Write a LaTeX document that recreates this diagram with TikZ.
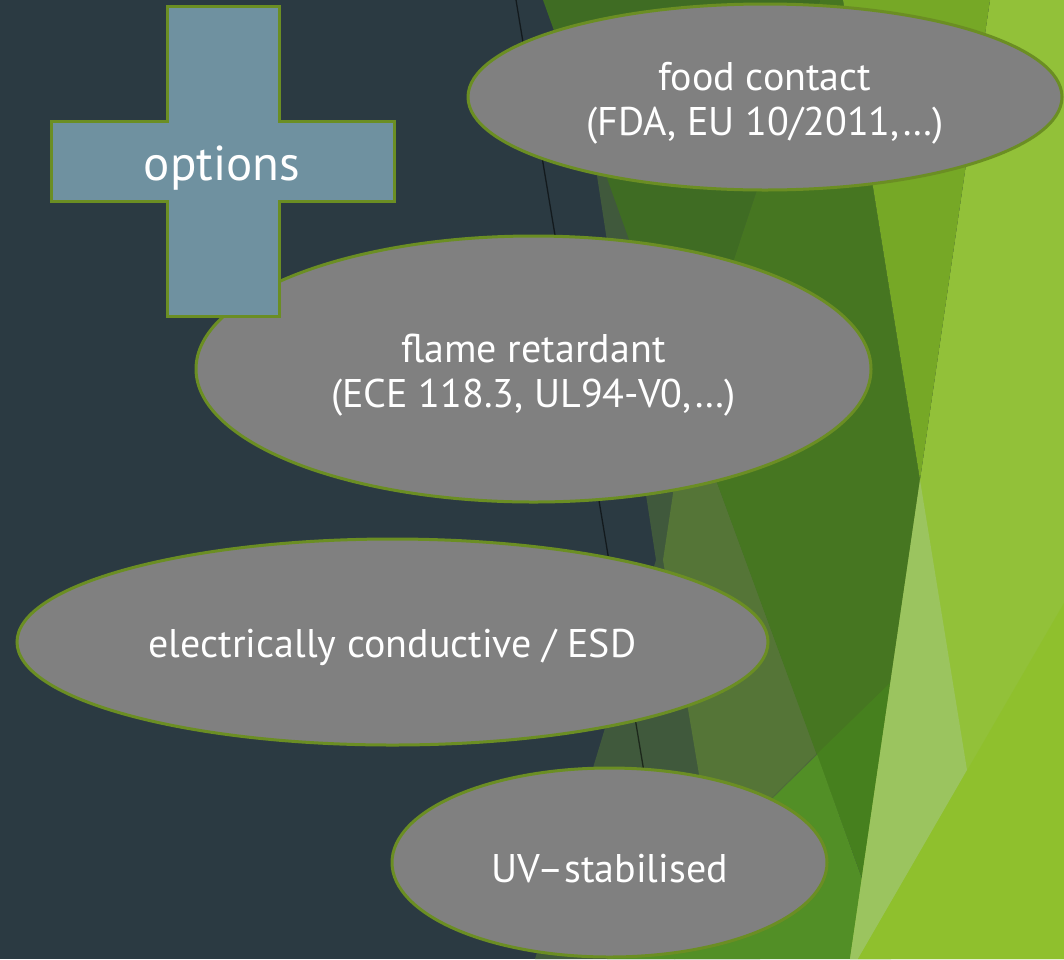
\documentclass[tikz,border=0pt]{standalone}
\usepackage{fontspec}
\setmainfont{PT Sans}
\definecolor{slate}{RGB}{43,58,66}
\definecolor{stripg}{RGB}{64,89,60}
\definecolor{dgreena}{RGB}{63,108,35}
\definecolor{dgreenb}{RGB}{70,118,33}
\definecolor{oliveg}{RGB}{85,117,55}
\definecolor{brgreen}{RGB}{70,128,30}
\definecolor{bgreen}{RGB}{82,143,38}
\definecolor{mgreen}{RGB}{118,168,38}
\definecolor{lgreen}{RGB}{146,193,57}
\definecolor{wgreen}{RGB}{155,196,95}
\definecolor{ygreen}{RGB}{143,192,45}
\definecolor{rimgreen}{RGB}{107,142,35}
\definecolor{crossblue}{RGB}{111,145,160}
\usetikzlibrary{shapes.geometric}
\newcommand{\lift}{\rule{0pt}{40pt}}
\begin{document}
\begin{tikzpicture}[x=1pt, y=-1pt,
    optbox/.style={shape=ellipse, draw=rimgreen, line width=3pt, fill=black!50,
                   inner sep=0pt, text=white, align=center,
                   font=\fontsize{40}{45}\selectfont},
    crossbox/.style={draw=rimgreen, line width=3pt, fill=crossblue}]
  \useasboundingbox (0,0) rectangle (1064,959);
  % background facets
  \fill[slate] (0,0) rectangle (1064,959);
  \fill[stripg] (570,0) -- (656,560) -- (535,959) -- (760,959) -- (760,0) -- cycle;
  \draw[black, opacity=.55, line width=1.3pt] (516,0) -- (675,959);
  \fill[dgreena] (543,0) -- (820,0) -- (687,401) -- cycle;
  \fill[oliveg] (687,401) -- (817,754) -- (760,810) -- (710,840) -- (663,560) -- cycle;
  \fill[dgreenb] (820,0) -- (843,0) -- (920,480) -- (862,878) -- (687,401) -- cycle;
  \fill[brgreen] (817,754) -- (890,683) -- (862,878) -- cycle;
  \fill[bgreen] (817,754) -- (607,959) -- (891,959) -- cycle;
  \draw[black!70, opacity=.4, line width=1pt] (760,810) -- (817,754);
  \fill[lgreen] (990,0) -- (1064,0) -- (1064,959) -- (850,959) -- (920,480) -- cycle;
  \fill[mgreen] (843,0) -- (990,0) -- (920,480) -- cycle;
  \fill[wgreen] (920,480) -- (967,770) -- (858,959) -- (850,959) -- cycle;
  \fill[ygreen] (1064,603) -- (1064,959) -- (858,959) -- cycle;
  % options
  \node[optbox, minimum width=594, minimum height=186] (food) at (765,97)
    {\lift food contact\\(FDA, EU 10/2011,…)};
  \node[optbox, minimum width=675, minimum height=266] (flame) at (533.5,369)
    {\lift flame retardant\\(ECE 118.3, UL94-V0,…)};
  \node[optbox, minimum width=751, minimum height=206] (esd) at (392.5,642)
    {\lift electrically conductive / ESD};
  \node[optbox, minimum width=435, minimum height=189] (uv) at (609.5,862.5)
    {\lift UV–stabilised};
  % plus sign
  \draw[crossbox] (167,6) -- (279,6) -- (279,121) -- (394,121) -- (394,201)
    -- (279,201) -- (279,316) -- (167,316) -- (167,201) -- (51,201)
    -- (51,121) -- (167,121) -- cycle;
  \node[anchor=base, text=white, font=\fontsize{49}{58}\selectfont] (plus) at (222,180) {options};
\end{tikzpicture}
\end{document}
